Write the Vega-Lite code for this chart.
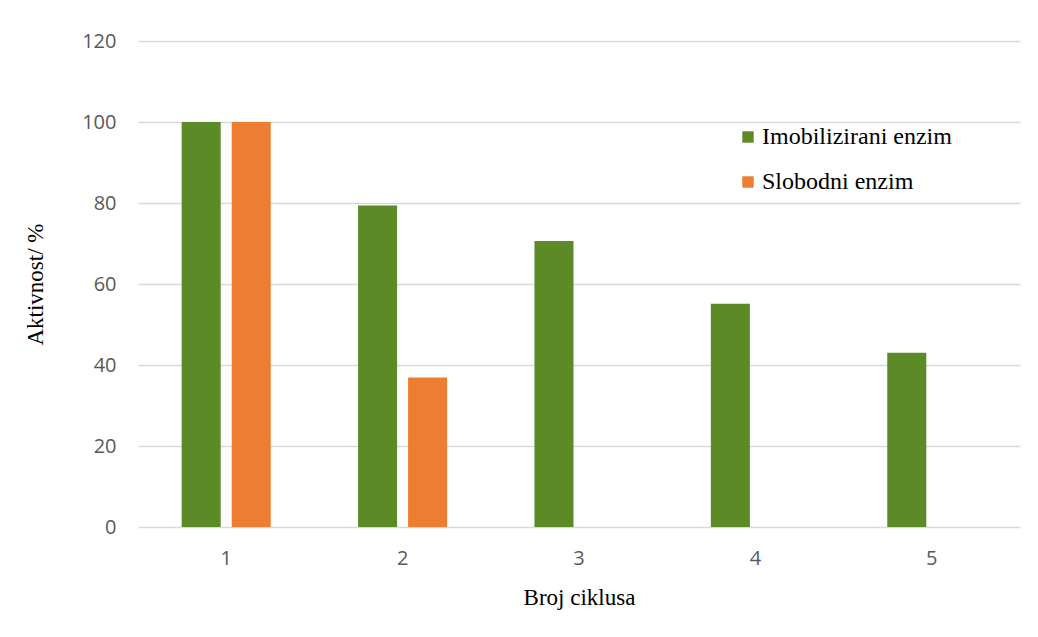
{
  "$schema": "https://vega.github.io/schema/vega-lite/v6.json",
  "width": 882,
  "height": 486,
  "padding": {"left": 138, "top": 41, "right": 18, "bottom": 110},
  "autosize": {"type": "none"},
  "background": "white",
  "config": {"view": {"stroke": null}},
  "data": {
    "values": [
      {"ciklus": "1", "serija": "Imobilizirani enzim", "aktivnost": 100},
      {"ciklus": "1", "serija": "Slobodni enzim", "aktivnost": 100},
      {"ciklus": "2", "serija": "Imobilizirani enzim", "aktivnost": 79.4},
      {"ciklus": "2", "serija": "Slobodni enzim", "aktivnost": 36.9},
      {"ciklus": "3", "serija": "Imobilizirani enzim", "aktivnost": 70.6},
      {"ciklus": "4", "serija": "Imobilizirani enzim", "aktivnost": 55.1},
      {"ciklus": "5", "serija": "Imobilizirani enzim", "aktivnost": 43}
    ]
  },
  "mark": {"type": "bar"},
  "encoding": {
    "x": {
      "field": "ciklus",
      "type": "nominal",
      "scale": {"paddingInner": 0.495, "paddingOuter": 0.2475},
      "axis": {
        "title": "Broj ciklusa",
        "titleFont": "Liberation Serif",
        "titleFontSize": 23,
        "titleFontWeight": "normal",
        "titleColor": "#000000",
        "titlePadding": 18,
        "labelAngle": 0,
        "labelFont": "Open Sans",
        "labelFontSize": 20,
        "labelColor": "#595959",
        "labelPadding": 21,
        "ticks": false,
        "domain": false
      }
    },
    "xOffset": {
      "field": "serija",
      "type": "nominal",
      "scale": {"paddingInner": 0.22, "paddingOuter": 0}
    },
    "y": {
      "field": "aktivnost",
      "type": "quantitative",
      "scale": {"domain": [0, 120]},
      "axis": {
        "title": "Aktivnost/ %",
        "titleFont": "Liberation Serif",
        "titleFontSize": 23,
        "titleFontWeight": "normal",
        "titleColor": "#000000",
        "titlePadding": 34,
        "values": [0, 20, 40, 60, 80, 100, 120],
        "labelFont": "Open Sans",
        "labelFontSize": 20,
        "labelColor": "#595959",
        "labelPadding": 22,
        "ticks": false,
        "domain": false,
        "grid": true,
        "gridColor": "#d9d9d9",
        "gridWidth": 1.5
      }
    },
    "color": {
      "field": "serija",
      "type": "nominal",
      "scale": {
        "domain": ["Imobilizirani enzim", "Slobodni enzim"],
        "range": ["#5b8a27", "#ed7d31"]
      },
      "legend": {
        "title": null,
        "orient": "none",
        "legendX": 598,
        "legendY": 84,
        "symbolType": "square",
        "symbolSize": 130,
        "symbolStrokeWidth": 0,
        "labelFont": "Liberation Serif",
        "labelFontSize": 24,
        "labelColor": "#000000",
        "labelOffset": 2,
        "labelLimit": 400,
        "rowPadding": 21
      }
    }
  }
}
